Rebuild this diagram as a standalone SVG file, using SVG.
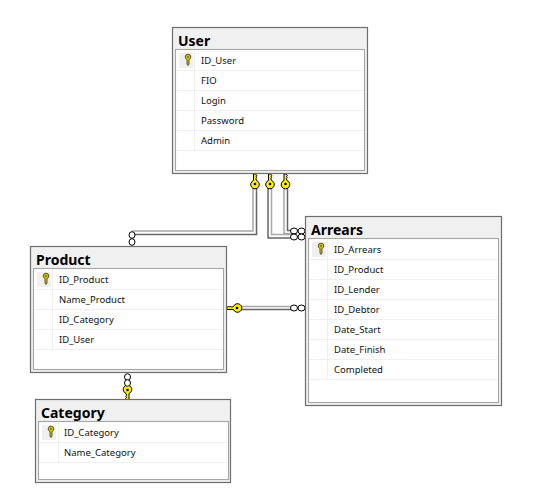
<svg xmlns="http://www.w3.org/2000/svg" xmlns:xlink="http://www.w3.org/1999/xlink" width="536" height="497" viewBox="0 0 536 497">
<style>
.outer{fill:#f0f0f0;stroke:#6e6e6e;stroke-width:1.2}
.inner{fill:#fff;stroke:#a6a6a6;stroke-width:1.1}
.row{stroke:#f0f0f0;stroke-width:1.2;fill:none}
.keybg{fill:#f0f0f0}
.title{font:bold 14px "Noto Sans","Open Sans","Liberation Sans",sans-serif;fill:#000}
.col{font:9.500px "Noto Sans","Open Sans","Liberation Sans",sans-serif;fill:#111}
.lo{fill:none;stroke:#a8a8a8;stroke-width:1.500}
.lw{fill:none;stroke:#fff;stroke-width:2}
.ld{fill:none;stroke:#666;stroke-width:1.500}
.inf{fill:#fff;stroke:#000;stroke-width:1}
.bigkey{fill:#ffee00;stroke:#000;stroke-width:1}
.smallkey{fill:#d8c400;stroke:#4a4a20;stroke-width:0.900}
</style>
<defs>
<g id="rel-key">
<path class="bigkey" d="M-1.500,-10H0.500L2,-8.500L0.800,-7.500L2,-6.500L0.800,-5.500L1.500,-3.500A4.300,4.300 0 1 1 -1.500,-3.500Z"/>
<circle cx="0" cy="0" r="1.300" fill="#000"/>
</g>
<g id="pk-key">
<path class="smallkey" d="M-2.800,-3A2.800,2.800 0 0 1 2.800,-3A2.800,2.800 0 0 1 1,-0.500V4L0,5.500L-1,4V-0.500A2.800,2.800 0 0 1 -2.800,-3Z"/>
<circle cx="0" cy="-3" r="0.800" fill="#333"/>
</g>
</defs>

<g id="connectors">
<path class="lw" d="M255,188V233H132"/>
<path class="lo" d="M253,188V231H132"/>
<path class="ld" d="M256.500,188V234.500H132"/>
<path class="lw" d="M270,188V236H292"/>
<path class="ld" d="M268,188V238H292"/>
<path class="lo" d="M271.500,188V234.500H292"/>
<path class="lw" d="M286,188V232H292"/>
<path class="lo" d="M284,188V233.500H292"/>
<path class="ld" d="M287.500,188V230.500H292"/>
<path class="lw" d="M241,308H291"/>
<path class="lo" d="M241,306.500H291"/>
<path class="ld" d="M241,309.500H291"/>
<g id="ends">
<use xlink:href="#rel-key" href="#rel-key" transform="translate(255,184)"/>
<use xlink:href="#rel-key" href="#rel-key" transform="translate(270,184)"/>
<use xlink:href="#rel-key" href="#rel-key" transform="translate(285.500,184)"/>
<use xlink:href="#rel-key" href="#rel-key" transform="translate(237,308) rotate(-90)"/>
<use xlink:href="#rel-key" href="#rel-key" transform="translate(127.500,390) rotate(180)"/>
<ellipse class="inf" cx="132" cy="235" rx="3" ry="3.300"/>
<ellipse class="inf" cx="132" cy="242" rx="3" ry="3.300"/>
<ellipse class="inf" cx="294" cy="308" rx="3.500" ry="3"/>
<ellipse class="inf" cx="301.500" cy="308" rx="3.500" ry="3"/>
<ellipse class="inf" cx="127.500" cy="377" rx="3" ry="3.300"/>
<ellipse class="inf" cx="127.500" cy="383" rx="3" ry="3.300"/>
<ellipse class="inf" cx="294" cy="231" rx="3.500" ry="3"/>
<ellipse class="inf" cx="301.500" cy="231" rx="3.500" ry="3"/>
<ellipse class="inf" cx="294" cy="237" rx="3.500" ry="3"/>
<ellipse class="inf" cx="301.500" cy="237" rx="3.500" ry="3"/>
</g>
</g>

<g id="user">
<rect class="outer" x="172.500" y="27.500" width="195" height="146"/>
<text class="title" x="178" y="46">User</text>
<rect class="inner" x="175.500" y="49.500" width="189" height="121"/>
<path class="row" d="M176,70.500H364M176,90.500H364M176,110.500H364M176,130.500H364M176,150.500H364M194.500,50V150"/>
<rect class="keybg" x="179" y="53" width="14" height="15"/>
<use xlink:href="#pk-key" href="#pk-key" transform="translate(188,60)"/>
<text class="col" x="201" y="64">ID_User</text>
<text class="col" x="201" y="84">FIO</text>
<text class="col" x="201" y="104">Login</text>
<text class="col" x="201" y="124">Password</text>
<text class="col" x="201" y="144">Admin</text>
</g>

<g id="product">
<rect class="outer" x="30.500" y="246.500" width="196" height="126"/>
<text class="title" x="36" y="265">Product</text>
<rect class="inner" x="33.500" y="268.500" width="190" height="101"/>
<path class="row" d="M34,289.500H223M34,309.500H223M34,329.500H223M34,349.500H223M52.500,269V349"/>
<rect class="keybg" x="37" y="272" width="14" height="15"/>
<use xlink:href="#pk-key" href="#pk-key" transform="translate(46,279)"/>
<text class="col" x="59" y="283">ID_Product</text>
<text class="col" x="59" y="303">Name_Product</text>
<text class="col" x="59" y="323">ID_Category</text>
<text class="col" x="59" y="343">ID_User</text>
</g>

<g id="arrears">
<rect class="outer" x="305.500" y="216.500" width="196" height="189"/>
<text class="title" x="311" y="235">Arrears</text>
<rect class="inner" x="308.500" y="238.500" width="190" height="164"/>
<path class="row" d="M309,259.500H498M309,279.500H498M309,299.500H498M309,319.500H498M309,339.500H498M309,359.500H498M309,379.500H498M327.500,239V379"/>
<rect class="keybg" x="312" y="242" width="14" height="15"/>
<use xlink:href="#pk-key" href="#pk-key" transform="translate(321,249)"/>
<text class="col" x="334" y="253">ID_Arrears</text>
<text class="col" x="334" y="273">ID_Product</text>
<text class="col" x="334" y="293">ID_Lender</text>
<text class="col" x="334" y="313">ID_Debtor</text>
<text class="col" x="334" y="333">Date_Start</text>
<text class="col" x="334" y="353">Date_Finish</text>
<text class="col" x="334" y="373">Completed</text>
</g>

<g id="category">
<rect class="outer" x="35.500" y="399.500" width="195" height="83"/>
<text class="title" x="41" y="418">Category</text>
<rect class="inner" x="38.500" y="421.500" width="190" height="58"/>
<path class="row" d="M39,442.500H228M39,462.500H228M58.500,422V462"/>
<rect class="keybg" x="42" y="425" width="14" height="15"/>
<use xlink:href="#pk-key" href="#pk-key" transform="translate(51,432)"/>
<text class="col" x="64" y="436">ID_Category</text>
<text class="col" x="64" y="456">Name_Category</text>
</g>
</svg>
